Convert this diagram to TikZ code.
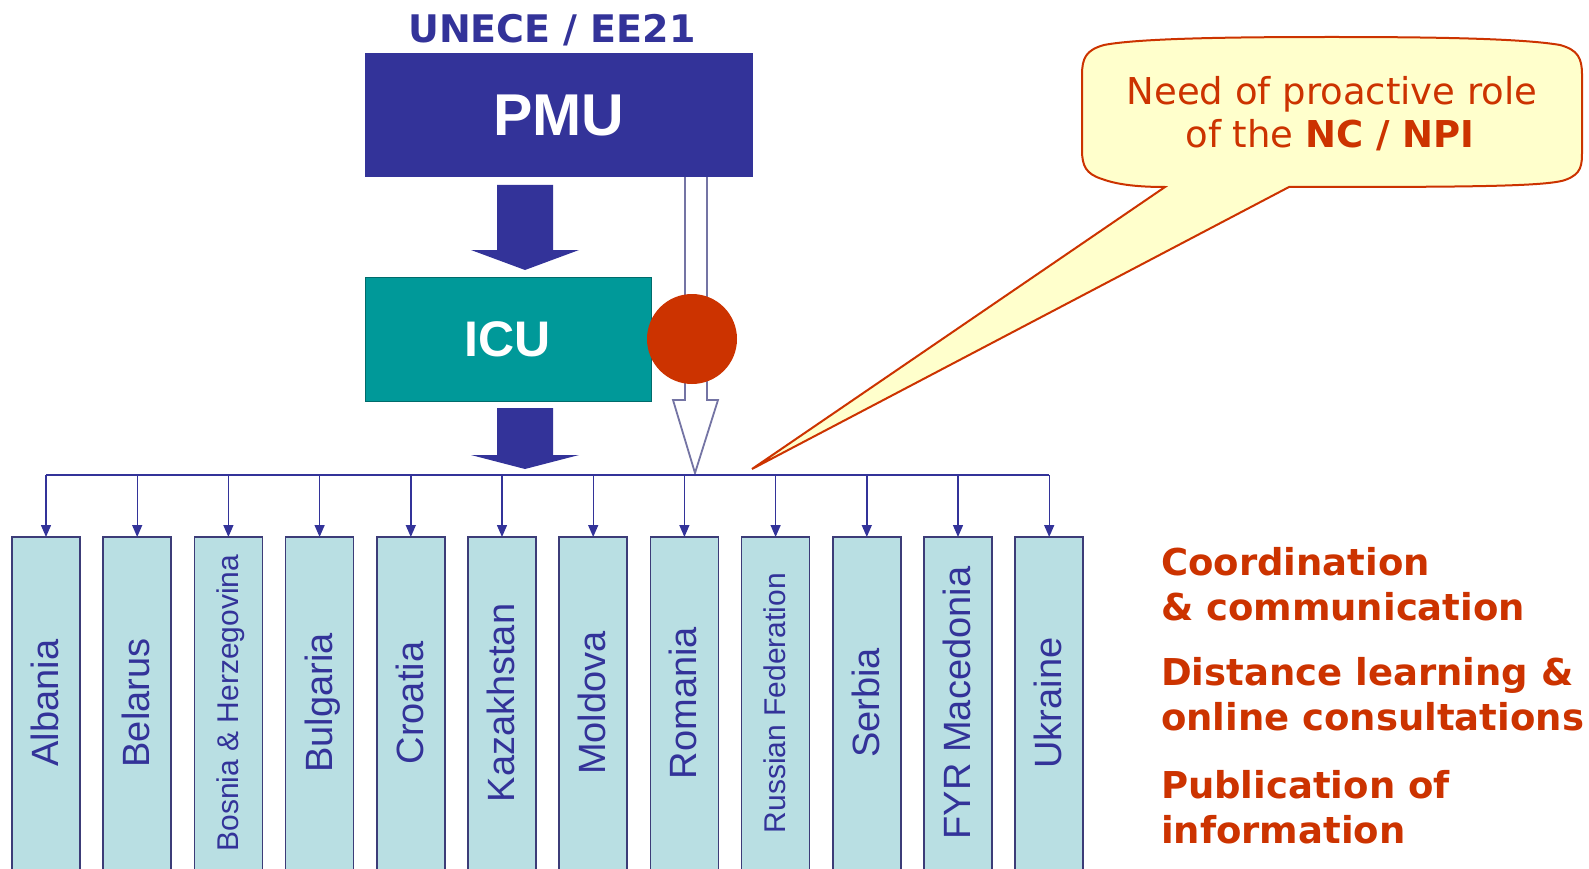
\documentclass[tikz,border=0pt]{standalone}
\usepackage{fontspec}
\setmainfont{Liberation Sans}
\newfontfamily\dvs{DejaVu Sans}
\usetikzlibrary{arrows.meta,calc}
\definecolor{navy}{HTML}{333399}
\definecolor{teal2}{HTML}{009999}
\definecolor{rust}{HTML}{CC3300}
\definecolor{pale}{HTML}{FFFFCC}
\definecolor{boxfill}{HTML}{B9DFE3}
\definecolor{boxline}{HTML}{3C3C78}
\definecolor{hollow}{HTML}{7474A4}
\begin{document}
\begin{tikzpicture}[x=1pt,y=-1pt,
  every node/.style={inner sep=0pt, outer sep=0pt},
  cbox/.style={draw=boxline, line width=1.5pt, fill=boxfill, minimum width=68pt, minimum height=380pt, anchor=north},
  cname/.style={rotate=90, text=navy, anchor=base},
  drop/.style={draw=navy, line width=1.4pt, -{Triangle[length=12pt,width=10pt]}},
  bus/.style={draw=navy, line width=1.4pt},
  blockarrow/.style={fill=navy},
  hollowarrow/.style={draw=hollow, line width=1.8pt, fill=white, line join=miter},
  callout/.style={draw=rust, line width=2pt, fill=pale},
  redtext/.style={text=rust, font=\dvs\bfseries\fontsize{37}{45}\selectfont, align=left, anchor=base west}
]
\path[use as bounding box] (0,0) rectangle (1589,869);
\fill[white] (0,0) rectangle (1589,869);
\clip (0,0) rectangle (1589,869);

% hollow arrow from PMU down to the bus
\draw[hollowarrow] (685,177) -- (685,400) -- (673,400) -- (695,473) -- (718,400) -- (707,400) -- (707,177);

% PMU
\node[fill=navy, minimum width=388pt, minimum height=124pt, text=white,
      font=\bfseries\fontsize{59}{59}\selectfont] (pmu) at (559,115) {PMU};
\node[text=navy, font=\dvs\bfseries\fontsize{38}{40}\selectfont, anchor=base] (unece) at (552,43) {UNECE / EE21};

% ICU
\node[fill=teal2, draw=teal2!70!black, line width=1pt, minimum width=286pt, minimum height=124pt, text=white,
      font=\bfseries\fontsize{50}{50}\selectfont] (icu) at (508,339) {ICU};

% block arrows
\fill[blockarrow] (497,185) -- (553,185) -- (553,250) -- (579,250) -- (525,270) -- (471,250) -- (497,250) -- cycle;
\fill[blockarrow] (497,408) -- (553,408) -- (553,455) -- (579,455) -- (525,469) -- (471,455) -- (497,455) -- cycle;

% red circle
\node[circle, fill=rust, minimum size=90pt] (dot) at (692,339) {};

% bus line
\coordinate (bus) at (0,475);
\foreach \n/\s [count=\i] in {Albania/38, Belarus/38, Bosnia \& Herzegovina/30, Bulgaria/38, Croatia/38, Kazakhstan/38, Moldova/38, Romania/38, Russian Federation/30, Serbia/38, FYR Macedonia/38, Ukraine/38}{
  \node[cbox] (b\i) at ({46+91.2*(\i-1)},537) {};
  \node[cname, font=\fontsize{\s}{\s}\selectfont] (t\i) at ($(b\i.north)+({0.33*\s},166)$) {\n};
  \draw[drop] (b\i.north |- bus) -- (b\i.north);
}
\draw[bus] (b1.north |- bus) -- (b12.north |- bus);

% callout
\draw[callout] (1165,187) -- (752,469) -- (1289,187)
  .. controls (1450,187) and (1545,187) .. (1565,180)
  .. controls (1582,174) and (1582,165) .. (1582,150)
  -- (1582,75)
  .. controls (1582,58) and (1578,50) .. (1560,45)
  .. controls (1520,38) and (1420,37) .. (1332,37)
  .. controls (1240,37) and (1140,38) .. (1104,45)
  .. controls (1086,50) and (1082,58) .. (1082,75)
  -- (1082,150)
  .. controls (1082,166) and (1086,174) .. (1102,179)
  .. controls (1118,185) and (1140,187) .. (1165,187) -- cycle;
\node[text=rust, font=\dvs\fontsize{37}{43}\selectfont, anchor=base] (need1) at (1332,105) {Need of proactive role};
\node[text=rust, font=\dvs\fontsize{37}{43}\selectfont, anchor=base] (need2) at (1330,148) {of the \textbf{NC / NPI}};

% right-hand list
\node[redtext] (coord) at (1161,620) {Coordination\\\& communication};
\node[redtext] (dist) at (1161,730) {Distance learning \&\\online consultations};
\node[redtext] (publ) at (1161,843) {Publication of\\information};
\end{tikzpicture}
\end{document}
